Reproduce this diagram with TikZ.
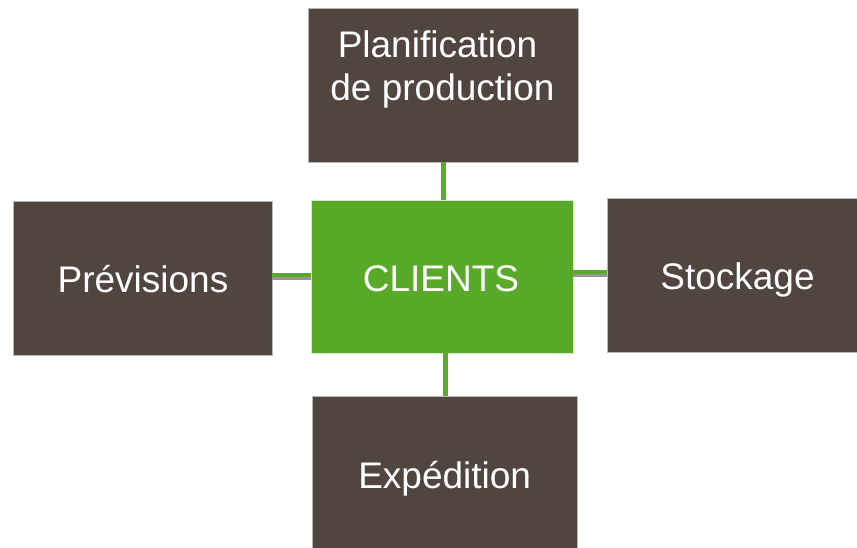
\documentclass[tikz,border=0pt]{standalone}
\usepackage{fontspec}
\setmainfont{Liberation Sans}
\definecolor{boxbrown}{RGB}{81,69,64}
\definecolor{cgreen}{RGB}{89,170,41}
\definecolor{shadowgray}{RGB}{150,150,150}
\tikzset{
  boxnode/.style={rectangle, fill=boxbrown, draw=white!72!black, line width=0.7pt, inner sep=0pt},
  greenbox/.style={rectangle, fill=cgreen, draw=white!75!cgreen, line width=0.7pt, inner sep=0pt},
  lbl/.style={text=white, font=\fontsize{37}{44}\selectfont, anchor=base, inner sep=0pt},
  conn/.style={draw=cgreen, line width=4pt},
  vconn/.style={draw=cgreen, line width=5pt},
  shade/.style={draw=shadowgray, line width=3.5pt}
}
\begin{document}
\begin{tikzpicture}[x=1pt,y=-1pt]
\useasboundingbox (0,0) rectangle (857,547);
\fill[white] (0,0) rectangle (857,547);
% boxes
\node[boxnode, minimum width=270pt, minimum height=154pt] (T) at (443,85) {};
\node[boxnode, minimum width=259pt, minimum height=154pt] (L) at (142.5,278) {};
\node[greenbox, minimum width=262pt, minimum height=153pt] (C) at (442,276.5) {};
\node[boxnode, minimum width=261pt, minimum height=154pt] (R) at (737.5,275) {};
\node[boxnode, minimum width=265pt, minimum height=156pt] (B) at (445,474) {};
% connectors
\draw[shade] ([yshift=-0.2pt]L.east) -- ([yshift=-0.2pt]L.east -| C.west);
\draw[conn] ([yshift=3.5pt]L.east) -- ([yshift=3.5pt]L.east -| C.west);
\draw[shade] ([yshift=0pt]R.west) -- ([yshift=0pt]R.west -| C.east);
\draw[conn] ([yshift=3.5pt]R.west) -- ([yshift=3.5pt]R.west -| C.east);
\draw[vconn] ([xshift=0.5pt]T.south) -- ([xshift=0.5pt]T.south |- C.north);
\draw[vconn] (B.north) -- (B.north |- C.south);
% labels
\node[lbl] (Tt1) at (437.5,57) {Planification};
\node[lbl] (Tt2) at (442.5,100) {de production};
\node[lbl] (Lt) at (143,292) {Prévisions};
\node[lbl] (Ct) at (441,291) {CLIENTS};
\node[lbl] (Rt) at (737.5,289) {Stockage};
\node[lbl] (Bt) at (444.7,488) {Expédition};
\end{tikzpicture}
\end{document}
